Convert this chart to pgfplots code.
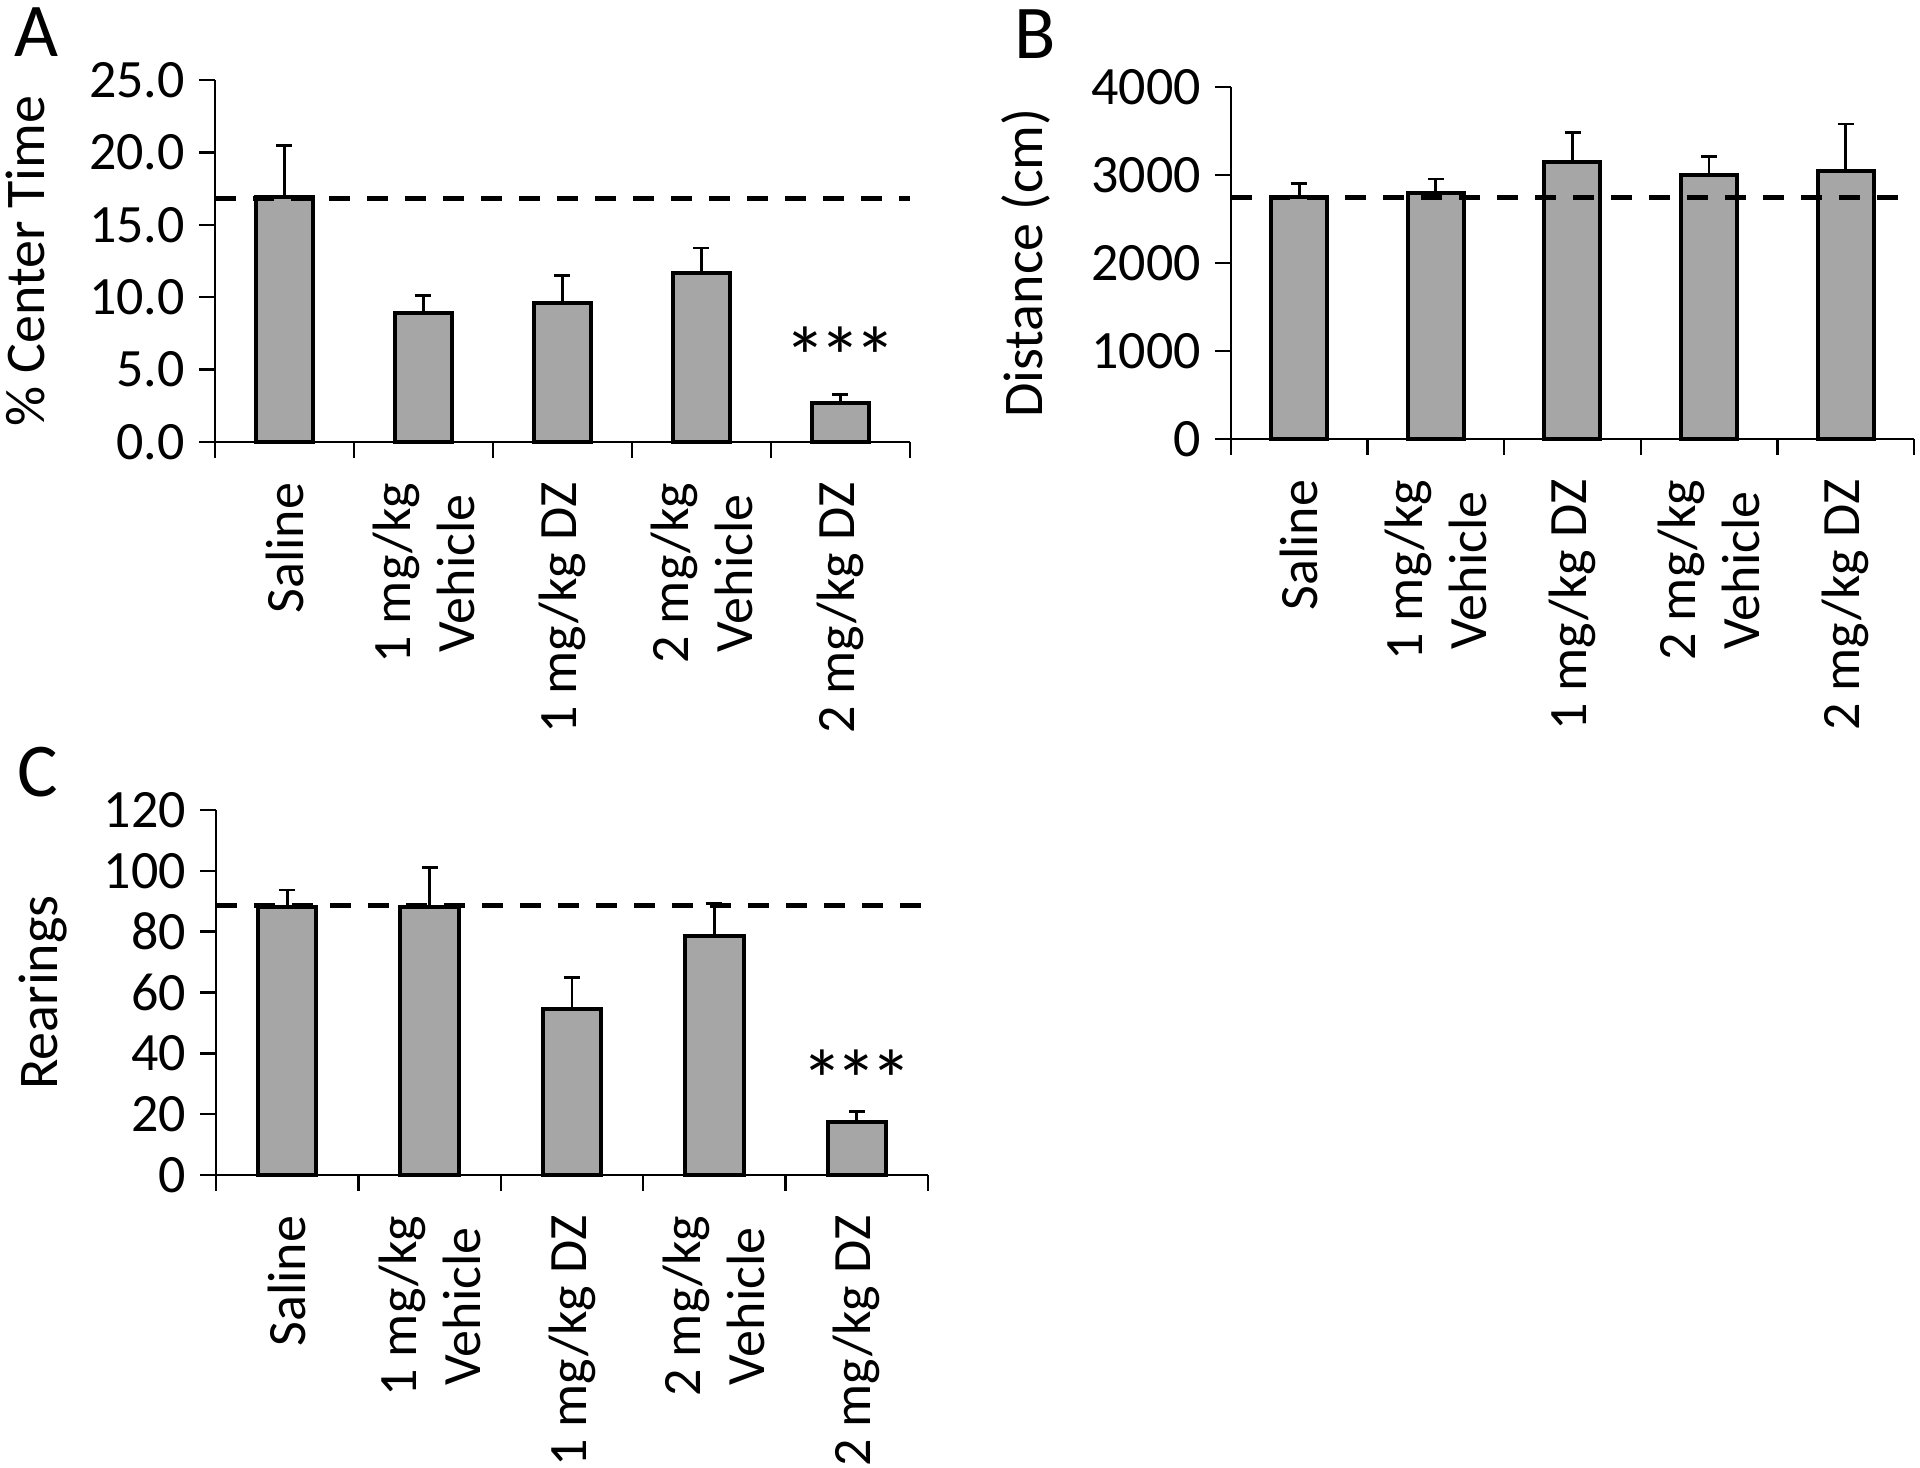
\documentclass[border=0pt]{standalone}
\usepackage{pgfplots}
\pgfplotsset{compat=1.18}
\usepackage{pgfplotstable}
\usepackage{fontspec}
\setmainfont{Carlito}
\definecolor{bargray}{RGB}{166,166,166}

% x: group, y: mean, err: upper error
\pgfplotstableread{
x y err
1 16.9 3.6
2 8.9 1.2
3 9.6 1.9
4 11.7 1.7
5 2.7 0.6
}\dataA
\pgfplotstableread{
x y err
1 2750 150
2 2790 165
3 3150 330
4 3005 205
5 3050 530
}\dataB
\pgfplotstableread{
x y err
1 88.2 5.5
2 88.2 13.0
3 54.6 10.4
4 78.7 10.6
5 17.3 3.5
}\dataC

\tikzset{stars/.style={font=\fontsize{21}{21}\selectfont}}
\newcommand{\stars}{*\kern-1.8pt*\kern-1.8pt*}
\pgfplotsset{
  panel/.style={
    scale only axis,
    axis lines=left, axis line style={-, line width=0.6pt},
    xmin=0.5, xmax=5.5, ymin=0,
    xtick={0.5,1.5,...,5.5}, xticklabels={,,,,,},
    extra x ticks={1,2,3,4,5},
    extra x tick labels={Saline,{1 mg/kg\\Vehicle},1 mg/kg DZ,{2 mg/kg\\Vehicle},2 mg/kg DZ},
    extra x tick style={major tick length=0pt},
    tick align=outside,
    major tick length=4pt,
    tick style={black, line width=0.6pt},
    xticklabel style={rotate=90, anchor=east, align=center, inner sep=0pt},
    xticklabel shift=10pt,
    every tick label/.append style={font=\fontsize{13.5}{16}\selectfont},
    /pgf/number format/assume math mode=true,
    clip=false,
  },
  ylab/.style={every axis y label/.style={at={(axis description cs:#1,0.5)}, rotate=90, anchor=center,
    font=\fontsize{14}{16}\selectfont}},
  bars/.style={ybar, bar width=0.41, bar shift=0pt, fill=bargray, draw=black, line width=1pt,
    error bars/y dir=plus, error bars/y explicit,
    error bars/error bar style={line width=0.7pt},
    error bars/error mark options={rotate=90, line width=0.7pt, mark size=2pt}},
  ref/.style={black, line width=1.25pt, dash pattern=on 5.25pt off 4.25pt},
}

\begin{document}
\begin{tikzpicture}
\useasboundingbox (0,0) rectangle (480pt,367pt);

% A
\begin{axis}[panel, at={(53.75pt,256.5pt)}, anchor=south west,
  width=173.75pt, height=90.5pt,
  ymax=25, ytick={0,5,...,25},
  yticklabel style={/pgf/number format/.cd, fixed, fixed zerofill, precision=1},
  ylabel={\% Center Time}, ylab=-0.273]
  \addplot[bars] table[x=x, y=y, y error=err]{\dataA};
  \addplot[ref] coordinates {(0.5,16.8) (5.5,16.8)};
  \node[stars] at (axis cs:5,5.9) {\stars};
\end{axis}

% B
\begin{axis}[panel, at={(307.75pt,257.25pt)}, anchor=south west,
  width=170.75pt, height=88pt,
  ymax=4000, ytick={0,1000,...,4000},
  yticklabel style={/pgf/number format/.cd, fixed, set thousands separator={}},
  ylabel={Distance (cm)}, ylab=-0.300]
  \addplot[bars] table[x=x, y=y, y error=err]{\dataB};
  \addplot[ref] coordinates {(0.5,2740) (5.5,2740)};
\end{axis}

% C
\begin{axis}[panel, at={(54pt,73.25pt)}, anchor=south west,
  width=178pt, height=91.25pt,
  ymax=120, ytick={0,20,...,120},
  ylabel={Rearings}, ylab=-0.243]
  \addplot[bars] table[x=x, y=y, y error=err]{\dataC};
  \addplot[ref] coordinates {(0.5,88.5) (5.5,88.5)};
  \node[stars] at (axis cs:5,31.5) {\stars};
\end{axis}

\node[font=\fontsize{19}{19}\selectfont] at (9pt,359pt) {A};
\node[font=\fontsize{19}{19}\selectfont] at (258.75pt,358.5pt) {B};
\node[font=\fontsize{19}{19}\selectfont] at (9.5pt,174pt) {C};
\end{tikzpicture}
\end{document}
